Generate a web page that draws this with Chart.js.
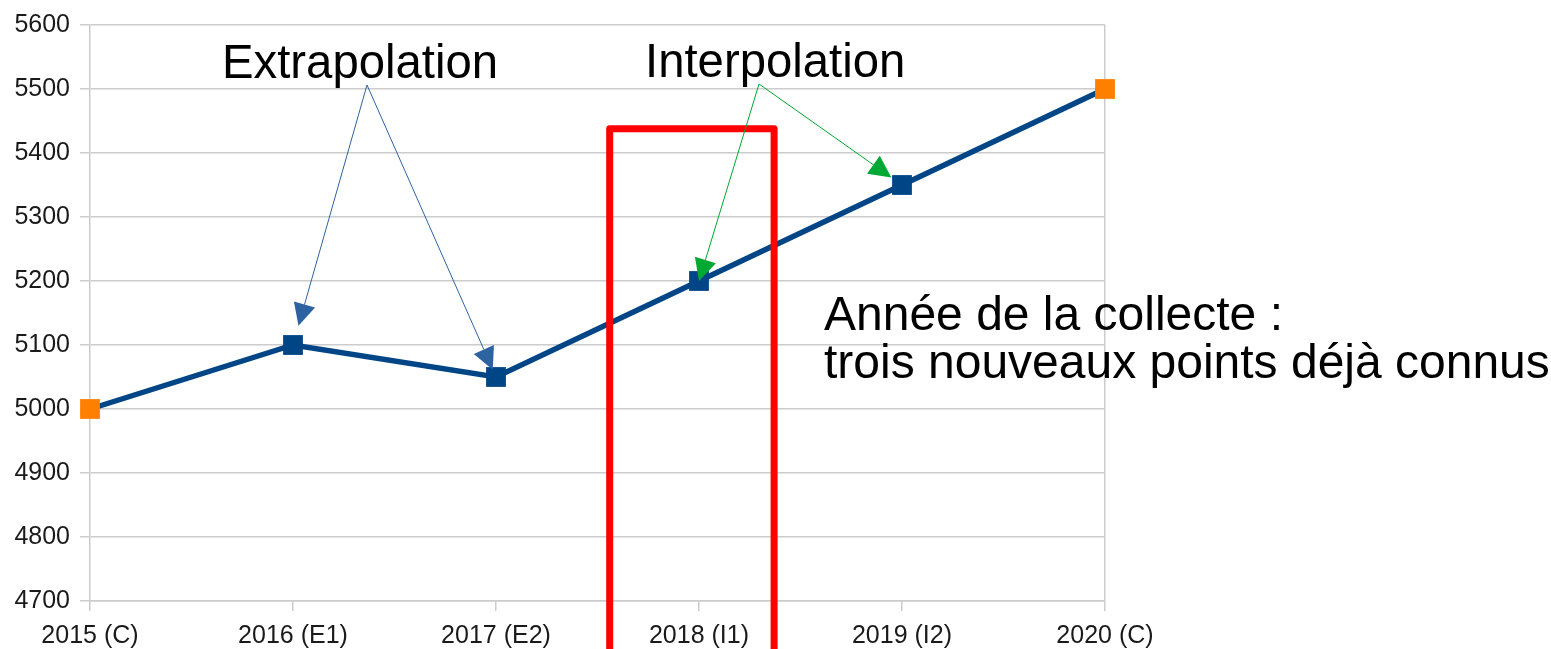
<!DOCTYPE html>
<html>
<head>
<meta charset="utf-8">
<script src="https://cdn.jsdelivr.net/npm/chart.js@4/dist/chart.umd.min.js"></script>
<style>
html, body { margin: 0; padding: 0; background: #fff; }
#wrap { width: 1551px; height: 649px; position: relative; }
</style>
</head>
<body>
<div id="wrap"><canvas id="myChart"></canvas></div>
<script>
var years = ['2015 (C)', '2016 (E1)', '2017 (E2)', '2018 (I1)', '2019 (I2)', '2020 (C)'];
var population = [5000, 5100, 5050, 5200, 5350, 5500];
var known = [true, false, false, false, false, true];
var yMin = 4700, yMax = 5600, yStep = 100;
var extraLabel = 'Extrapolation';
var extraTargets = [1, 2];
var interLabel = 'Interpolation';
var interTargets = [3, 4];
var noteLines = ['Année de la collecte :', 'trois nouveaux points déjà connus'];

var gridGray = '#cccccc';
var navy = '#004586';
var orange = '#ff8000';

function arrow(c, x0, y0, x1, y1, gap, color) {
    var dx = x1 - x0, dy = y1 - y0;
    var len = Math.sqrt(dx * dx + dy * dy);
    var ux = dx / len, uy = dy / len;
    var tx = x1 - ux * gap, ty = y1 - uy * gap;
    var bx = tx - ux * 22, by = ty - uy * 22;
    c.strokeStyle = color;
    c.fillStyle = color;
    c.lineWidth = 1;
    c.beginPath();
    c.moveTo(x0, y0);
    c.lineTo(bx, by);
    c.stroke();
    c.beginPath();
    c.moveTo(tx, ty);
    c.lineTo(bx - uy * 11, by + ux * 11);
    c.lineTo(bx + uy * 11, by - ux * 11);
    c.closePath();
    c.fill();
}

var notes = {
    id: 'notes',
    afterDatasetsDraw: function (chart) {
        var c = chart.ctx;
        var xs = chart.scales.x, ys = chart.scales.y;
        c.save();
        // red frame around the collection year
        var left = xs.getPixelForValue(2.56), right = xs.getPixelForValue(3.37);
        var top = ys.getPixelForValue(5438);
        c.strokeStyle = '#ff0000';
        c.lineWidth = 7;
        c.lineJoin = 'round';
        c.beginPath();
        c.moveTo(left, chart.height + 10);
        c.lineTo(left, top);
        c.lineTo(right, top);
        c.lineTo(right, chart.height + 10);
        c.stroke();

        var gapsE = [20, 8], gapsI = [0, 13];
        extraTargets.forEach(function (i, k) {
            arrow(c, 367, 85, xs.getPixelForValue(i), ys.getPixelForValue(population[i]), gapsE[k], '#2e63a2');
        });
        interTargets.forEach(function (i, k) {
            arrow(c, 759, 84, xs.getPixelForValue(i), ys.getPixelForValue(population[i]), gapsI[k], '#00a933');
        });

        c.fillStyle = '#000';
        c.textBaseline = 'alphabetic';
        c.textAlign = 'left';
        c.font = '47.3px "Liberation Sans", Arial, sans-serif';
        c.fillText(extraLabel, 222, 78);
        c.fillText(interLabel, 645, 77);
        c.font = '48px "Liberation Sans", Arial, sans-serif';
        c.fillText(noteLines[0], 824, 330);
        c.fillText(noteLines[1], 824, 378);
        c.restore();
    }
};

var ctx = document.getElementById('myChart');
var myChart = new Chart(ctx, {
    type: 'line',
    data: {
        labels: years,
        datasets: [{
            label: 'Population',
            data: population,
            borderColor: navy,
            borderWidth: 5.5,
            tension: 0,
            pointStyle: 'rect',
            pointRadius: 14,
            pointHoverRadius: 14,
            pointBorderWidth: 0,
            pointBackgroundColor: known.map(function (k) { return k ? orange : navy; }),
            pointBorderColor: known.map(function (k) { return k ? orange : navy; })
        }]
    },
    options: {
        responsive: true,
        maintainAspectRatio: false,
        animation: false,
        events: [],
        layout: { padding: { top: 24, right: 446, left: 0, bottom: 0 } },
        plugins: { legend: { display: false }, tooltip: { enabled: false } },
        scales: {
            x: {
                offset: false,
                grid: {
                    offset: false,
                    color: function (c) { return c.index === years.length - 1 ? gridGray : 'rgba(0,0,0,0)'; },
                    tickColor: gridGray,
                    tickLength: 10,
                    lineWidth: 1.5
                },
                border: { display: true, color: gridGray, width: 1.5 },
                ticks: {
                    color: '#1a1a1a',
                    padding: 10,
                    maxRotation: 0,
                    autoSkip: false,
                    font: { family: '"Liberation Sans", Arial, sans-serif', size: 25 }
                },
                afterFit: function (s) { s.height = 48; }
            },
            y: {
                min: yMin,
                max: yMax,
                ticks: {
                    stepSize: yStep,
                    color: '#1a1a1a',
                    padding: 10,
                    font: { family: '"Liberation Sans", Arial, sans-serif', size: 25 },
                    callback: function (v) { return String(v); }
                },
                grid: { color: gridGray, tickColor: gridGray, tickLength: 10, lineWidth: 1.5 },
                border: { display: true, color: gridGray, width: 1.5 },
                afterFit: function (s) { s.width = 90; }
            }
        }
    },
    plugins: [notes]
});
</script>
</body>
</html>
